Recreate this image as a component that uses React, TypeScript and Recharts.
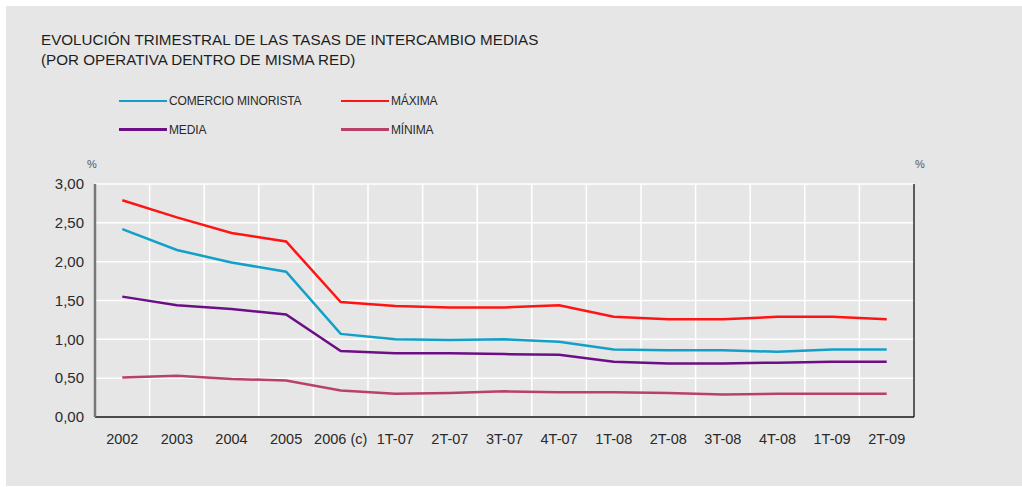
import React from "react";
import { LineChart, Line, XAxis, YAxis, CartesianGrid } from "recharts";

const categories = ["2002", "2003", "2004", "2005", "2006 (c)", "1T-07", "2T-07", "3T-07", "4T-07", "1T-08", "2T-08", "3T-08", "4T-08", "1T-09", "2T-09"];
const comercioMinorista = [2.42, 2.15, 1.99, 1.87, 1.07, 1.0, 0.99, 1.0, 0.97, 0.87, 0.86, 0.86, 0.84, 0.87, 0.87];
const maxima = [2.79, 2.57, 2.37, 2.26, 1.48, 1.43, 1.41, 1.41, 1.44, 1.29, 1.26, 1.26, 1.29, 1.29, 1.26];
const media = [1.55, 1.44, 1.39, 1.32, 0.85, 0.82, 0.82, 0.81, 0.8, 0.71, 0.69, 0.69, 0.7, 0.71, 0.71];
const minima = [0.51, 0.53, 0.49, 0.47, 0.34, 0.3, 0.31, 0.33, 0.32, 0.32, 0.31, 0.29, 0.3, 0.3, 0.3];
const yTicks = [0, 0.5, 1, 1.5, 2, 2.5, 3];

const seriesNames = ["COMERCIO MINORISTA", "MÁXIMA", "MEDIA", "MÍNIMA"];
const seriesColors = ["#12a0c9", "#ff1414", "#6c0f86", "#b9406b"];

const data = categories.map((c, i) => ({
  cat: c,
  comercio: comercioMinorista[i],
  maxima: maxima[i],
  media: media[i],
  minima: minima[i],
}));

const FONT = "'Liberation Sans', Arial, Helvetica, sans-serif";
const fmt = (v: number) => v.toFixed(2).replace(".", ",");

export default function App() {
  const legendPos = [
    { x: 119, y: 101 },
    { x: 341, y: 101 },
    { x: 119, y: 129.5 },
    { x: 341, y: 129.5 },
  ];
  return (
    <div style={{ position: "absolute", left: 0, top: 0, width: 1022, height: 487, background: "#fff", fontFamily: FONT }}>
      <div style={{ position: "absolute", left: 6, top: 6, width: 1016, height: 480, background: "#e6e6e6" }} />
      <div style={{ position: "absolute", left: 41, top: 30, fontSize: 15.2, lineHeight: "20px", color: "#1e1e1e", whiteSpace: "nowrap" }}>
        EVOLUCIÓN TRIMESTRAL DE LAS TASAS DE INTERCAMBIO MEDIAS
        <br />
        (POR OPERATIVA DENTRO DE MISMA RED)
      </div>
      {seriesNames.map((n, i) => (
        <div key={n} style={{ position: "absolute", left: legendPos[i].x, top: legendPos[i].y - 8, height: 16, display: "flex", alignItems: "center", whiteSpace: "nowrap" }}>
          <div style={{ width: 48, height: 2.5, background: seriesColors[i] }} />
          <span style={{ marginLeft: 2, fontSize: 12, color: "#2a2a2a", letterSpacing: -0.15 }}>{n}</span>
        </div>
      ))}
      <div style={{ position: "absolute", left: 87, top: 158, fontSize: 11, color: "#555" }}>%</div>
      <div style={{ position: "absolute", left: 915, top: 158, fontSize: 11, color: "#555" }}>%</div>
      <div style={{ position: "absolute", left: 0, top: 0 }}>
        <LineChart width={1022} height={487} data={data} margin={{ top: 184, right: 48, bottom: 30, left: 35 }}>
          <CartesianGrid
            yAxisId="left"
            stroke="#ffffff"
            strokeWidth={1.5}
            verticalCoordinatesGenerator={({ offset }: any) =>
              categories.slice(1).map((_, i) => offset.left + ((i + 1) * offset.width) / categories.length)
            }
          />
          <XAxis
            dataKey="cat"
            height={40}
            padding={{ left: 27.3, right: 27.3 }}
            tickLine={false}
            tickSize={0}
            tickMargin={17}
            axisLine={{ stroke: "#111", strokeWidth: 1.3 }}
            tick={{ fill: "#2a2a2a", fontSize: 14.5, fontFamily: FONT }}
            interval={0}
          />
          <YAxis
            yAxisId="left"
            width={60}
            domain={[0, 3]}
            ticks={yTicks}
            tickFormatter={fmt}
            tickLine={false}
            tickSize={0}
            tickMargin={11}
            axisLine={{ stroke: "#777", strokeWidth: 2.5 }}
            tick={{ fill: "#2a2a2a", fontSize: 15, fontFamily: FONT }}
          />
          <YAxis
            yAxisId="right"
            orientation="right"
            width={60}
            domain={[0, 3]}
            ticks={yTicks}
            tickFormatter={fmt}
            tickLine={false}
            tickSize={0}
            tickMargin={12}
            axisLine={{ stroke: "#111", strokeWidth: 1.3 }}
            tick={{ fill: "#2a2a2a", fontSize: 15, fontFamily: FONT, textAnchor: "start" }}
          />
          <Line yAxisId="left" dataKey="minima" stroke={seriesColors[3]} strokeWidth={2.5} dot={false} isAnimationActive={false} />
          <Line yAxisId="left" dataKey="media" stroke={seriesColors[2]} strokeWidth={2.5} dot={false} isAnimationActive={false} />
          <Line yAxisId="left" dataKey="comercio" stroke={seriesColors[0]} strokeWidth={2.5} dot={false} isAnimationActive={false} />
          <Line yAxisId="left" dataKey="maxima" stroke={seriesColors[1]} strokeWidth={2.5} dot={false} isAnimationActive={false} />
        </LineChart>
      </div>
    </div>
  );
}
